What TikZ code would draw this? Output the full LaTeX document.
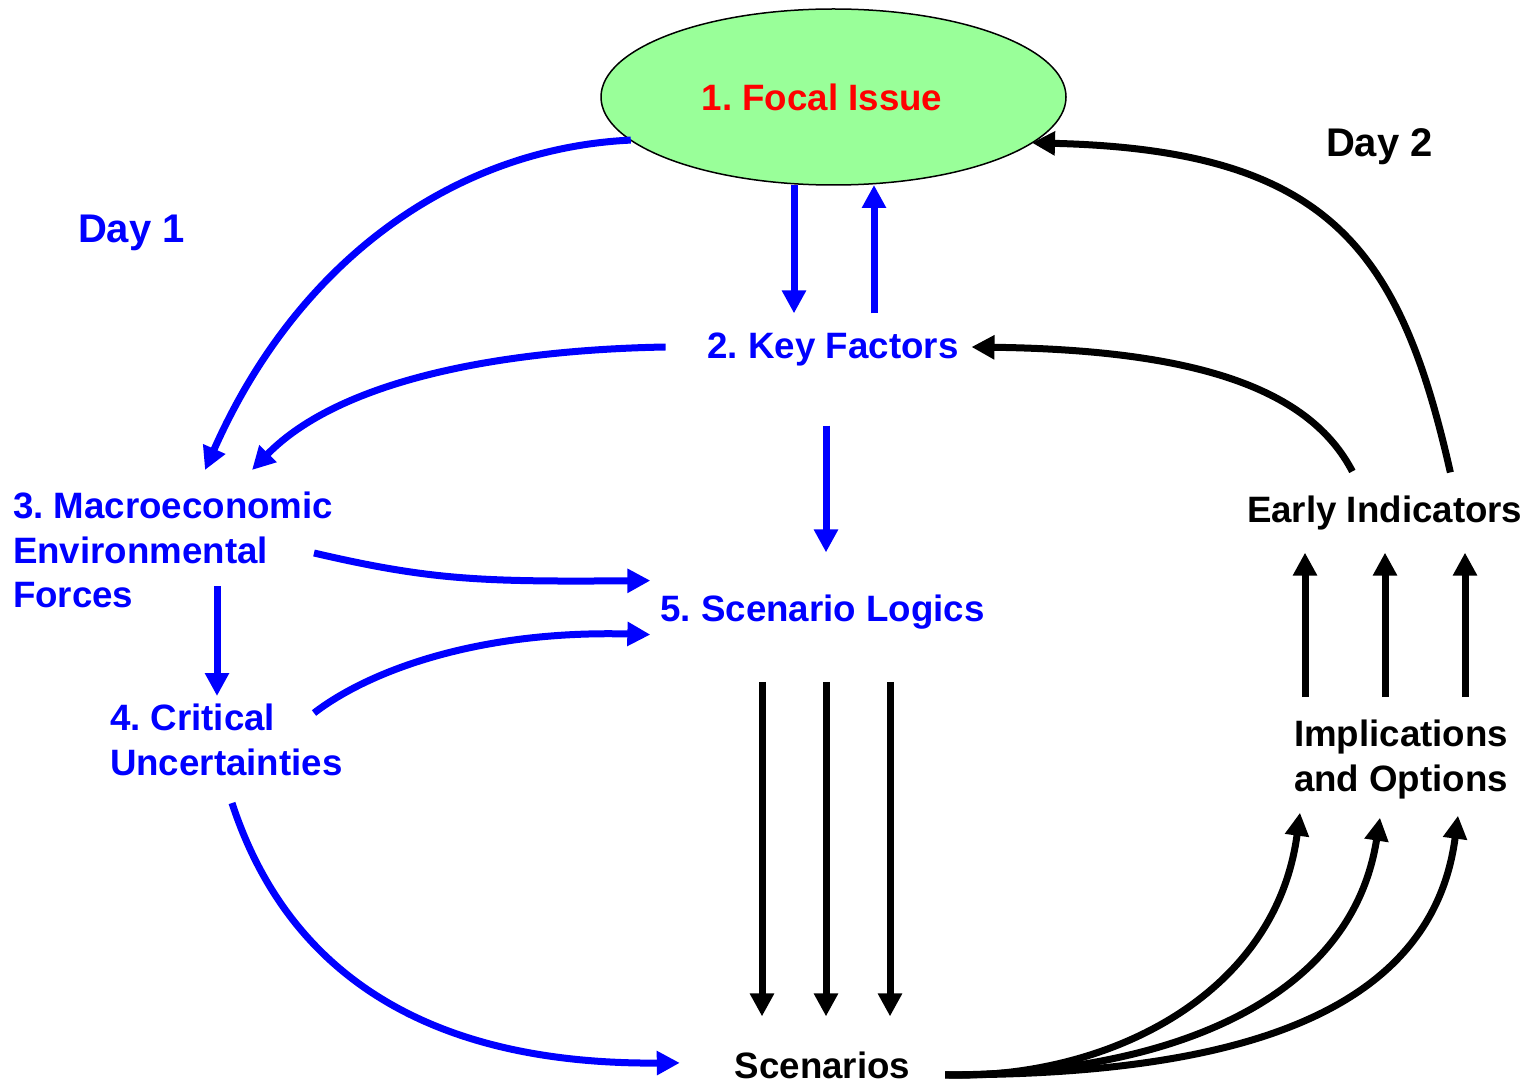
\documentclass[tikz,border=0pt]{standalone}
\usepackage{fontspec}
\setmainfont{Liberation Sans}
\frenchspacing
\usetikzlibrary{shapes.geometric, arrows.meta}
\definecolor{focalgreen}{HTML}{99FF99}
\begin{document}
\begin{tikzpicture}[x=1pt, y=-1pt,
    main/.style = {inner sep=0pt, outer sep=0pt, font=\bfseries\fontsize{36.7}{44.5}\selectfont},
    day/.style = {inner sep=0pt, outer sep=0pt, font=\bfseries\fontsize{40}{48}\selectfont},
    bluearr/.style = {draw=blue, line width=7pt, -{Triangle[length=23pt, width=23pt]}},
    blackarr/.style = {draw=black, line width=7pt, -{Triangle[length=23pt, width=23pt]}}]
    \useasboundingbox (0,0) rectangle (1530,1083);
    \node[main, ellipse, draw, line width=1.5pt, fill=focalgreen, text=red, minimum width=465pt, minimum height=176pt] (fi) at (833.5,97) {1. Focal Issue\hspace*{23pt}};
    \node[day, text=blue, anchor=base west] (d1) at (78,243) {Day 1};
    \node[day, anchor=base west] (d2) at (1326,157) {Day 2};
    \node[main, text=blue, anchor=base] (kf) at (833,358) {2. Key Factors};
    \node[main, text=blue, anchor=north west, align=left] (mef) at (13,492) {3. Macroeconomic\\Environmental\\Forces};
    \node[main, text=blue, anchor=north west, align=left] (cu) at (110,704) {4. Critical\\Uncertainties};
    \node[main, text=blue, anchor=base] (sl) at (822.5,621) {5. Scenario Logics};
    \node[main, anchor=base west] (ei) at (1247,522) {Early Indicators};
    \node[main, anchor=north west, align=left] (io) at (1294,720) {Implications\\and Options};
    \node[main, anchor=base] (sc) at (822.5,1078) {Scenarios};
    \draw[bluearr] (fi.192.5) .. controls (460,148) and (300,255) .. ([shift={(192,-22)}]mef.north west);
    \draw[bluearr] ([shift={(-39.5,0)}]fi.south) -- ([shift={(-39,-19)}]kf.north);
    \draw[bluearr] ([shift={(41,-19)}]kf.north) -- ([shift={(40.5,0)}]fi.south);
    \draw[bluearr] ([shift={(-42,-2)}]kf.west) .. controls (500,350) and (340,380) .. ([shift={(239,-22)}]mef.north west);
    \draw[bluearr] ([shift={(-7,60)}]kf.south) -- ([shift={(3.5,-42)}]sl.north);
    \draw[bluearr] ([shift={(301,61)}]mef.north west) .. controls (430,580) and (480,582) .. ([shift={(-10,-31)}]sl.west);
    \draw[bluearr] ([shift={(204,94)}]mef.north west) -- ([shift={(107,-8)}]cu.north west);
    \draw[bluearr] ([shift={(204,9)}]cu.north west) .. controls (370,670) and (480,630) .. ([shift={(-10,23)}]sl.west);
    \draw[bluearr] ([shift={(122,99)}]cu.north west) .. controls (280,950) and (400,1065) .. ([shift={(-55,-2)}]sc.west);
    \draw[blackarr] ([shift={(-72,-23)}]ei.north east) .. controls (1400,250) and (1330,150) .. (fi.-13.5);
    \draw[blackarr] ([shift={(-170,-24)}]ei.north east) .. controls (1310,390) and (1200,350) .. ([shift={(13,-2)}]kf.east);
    \foreach \dx in {11,91,171}
        \draw[blackarr] ([shift={(\dx,-23)}]io.north west) -- ([shift={(\dx+47,23)}]ei.south west);
    \foreach \dx in {-60.5,3.5,67.5}
        \draw[blackarr] ([shift={(\dx,53)}]sl.south) -- ([shift={(\dx,-35)}]sc.north);
    \draw[blackarr] ([shift={(35,10)}]sc.east) .. controls (1100,1080) and (1275,1000) .. ([shift={(6,14)}]io.south west);
    \draw[blackarr] ([shift={(35,10)}]sc.east) .. controls (1150,1075) and (1350,1010) .. ([shift={(86,19)}]io.south west);
    \draw[blackarr] ([shift={(35,10)}]sc.east) .. controls (1200,1075) and (1430,1030) .. ([shift={(164,17)}]io.south west);
\end{tikzpicture}
\end{document}
